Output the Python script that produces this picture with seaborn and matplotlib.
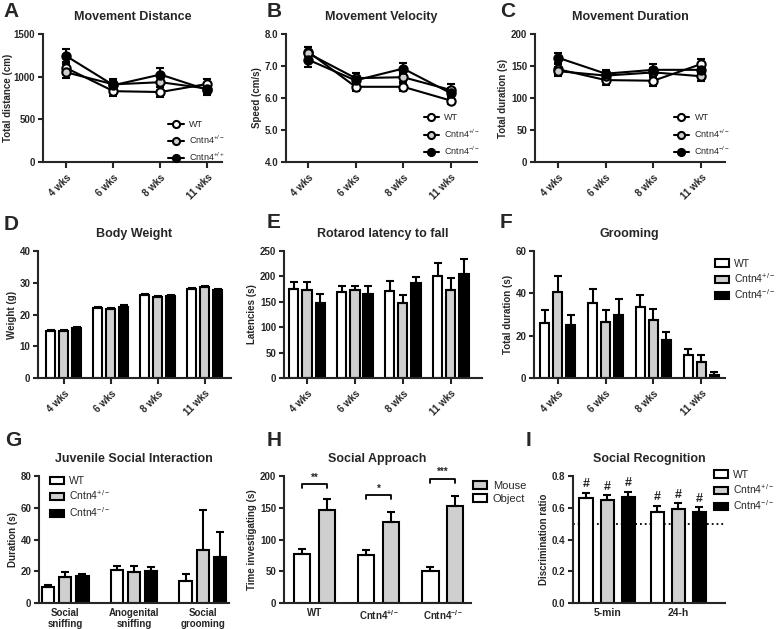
import numpy as np
import pandas as pd
import matplotlib
matplotlib.use("Agg")
import matplotlib.pyplot as plt
import seaborn as sns
from matplotlib.patches import Patch
from matplotlib.ticker import FormatStrFormatter

# valores
ages = ["4 wks", "6 wks", "8 wks", "11 wks"]
geno_labels = ["WT", "Cntn4$^{+/-}$", "Cntn4$^{-/-}$"]
geno_labels_a = ["WT", "Cntn4$^{+/-}$", "Cntn4$^{+/+}$"]

# A - distancia
dist_wt = [1100, 830, 820, 915]
dist_het = [1050, 910, 935, 860]
dist_ko = [1240, 900, 1025, 845]
dist_wt_err = [70, 60, 60, 60]
dist_het_err = [60, 60, 60, 55]
dist_ko_err = [90, 65, 80, 55]

# B - velocidade
vel_wt = [7.45, 6.35, 6.35, 5.92]
vel_het = [7.40, 6.62, 6.65, 6.25]
vel_ko = [7.20, 6.55, 6.92, 6.15]
vel_wt_err = [0.15, 0.12, 0.12, 0.12]
vel_het_err = [0.18, 0.15, 0.15, 0.18]
vel_ko_err = [0.22, 0.12, 0.18, 0.15]

# C - duracao
dur_wt = [145, 128, 127, 153]
dur_het = [142, 135, 140, 134]
dur_ko = [163, 138, 144, 144]
dur_wt_err = [8, 7, 8, 8]
dur_het_err = [7, 6, 7, 8]
dur_ko_err = [8, 6, 9, 7]

# D - peso
peso_wt = [14.7, 21.9, 26.0, 28.1]
peso_het = [14.7, 21.6, 25.5, 28.6]
peso_ko = [15.8, 22.5, 25.7, 27.6]
peso_err = [0.4, 0.4, 0.4, 0.4]

# E - rotarod
rot_wt = [175, 170, 171, 201]
rot_het = [173, 173, 147, 174]
rot_ko = [148, 166, 187, 205]
rot_wt_err = [14, 11, 19, 26]
rot_het_err = [15, 9, 16, 22]
rot_ko_err = [18, 15, 12, 30]

# F - grooming
groom_wt = [26, 35.5, 33.5, 10.7]
groom_het = [40.5, 26.6, 27.2, 7.6]
groom_ko = [25, 29.8, 17.8, 1.6]
groom_wt_err = [6, 6.5, 5.5, 3]
groom_het_err = [7.7, 5.5, 5.4, 3.5]
groom_ko_err = [5, 7.5, 4, 1.3]

# G - interacao social juvenil
juv_cats = ["Social\nsniffing", "Anogenital\nsniffing", "Social\ngrooming"]
juv_wt = [10, 21, 14]
juv_het = [16.5, 19.5, 33.5]
juv_ko = [17, 20, 29]
juv_wt_err = [1.5, 2.5, 4.5]
juv_het_err = [3, 3.5, 25]
juv_ko_err = [1.5, 2.5, 15.5]

# H - social approach
app_cats = ["WT", "Cntn4$^{+/-}$", "Cntn4$^{-/-}$"]
app_object = [77, 75, 51]
app_mouse = [146, 127, 152]
app_object_err = [8, 8, 5]
app_mouse_err = [18, 16, 17]
app_stars = ["**", "*", "***"]
app_bracket = [188, 170, 196]

# I - reconhecimento social
rec_cats = ["5-min", "24-h"]
rec_wt = [0.664, 0.576]
rec_het = [0.649, 0.590]
rec_ko = [0.668, 0.572]
rec_wt_err = [0.031, 0.038]
rec_het_err = [0.030, 0.038]
rec_ko_err = [0.032, 0.031]

WHITE, GRAY, BLACK = "white", "#cfcfcf", "black"

sns.set_style("ticks")
plt.rcParams["font.family"] = ["Liberation Sans", "DejaVu Sans"]
plt.rcParams.update({
    "font.weight": "bold",
    "axes.labelweight": "bold",
    "mathtext.fontset": "custom",
    "mathtext.rm": "Liberation Sans",
    "mathtext.it": "Liberation Sans:italic",
    "mathtext.bf": "Liberation Sans:bold",
    "mathtext.default": "regular",
    "axes.linewidth": 1.5,
    "xtick.major.width": 1.5,
    "ytick.major.width": 1.5,
    "xtick.major.size": 4,
    "ytick.major.size": 3.5,
    "ytick.major.pad": 2,
    "xtick.labelsize": 7,
    "ytick.labelsize": 7,
    "axes.labelsize": 7,
})

W, H = 777, 629
fig = plt.figure(figsize=(W / 100, H / 100), dpi=100)


def make_ax(l, t, r, b):
    ax = fig.add_axes([l / W, 1 - b / H, (r - l) / W, (b - t) / H])
    sns.despine(ax=ax)
    return ax


def style(ax, title, ylabel, ylim, step, xlim):
    ax.set_title(title, fontsize=9, fontweight="bold", pad=10)
    ax.set_ylabel(ylabel, labelpad=2)
    ax.set_xlabel("")
    ax.set_ylim(*ylim)
    ax.set_yticks(np.arange(ylim[0], ylim[1] + step / 2, step))
    ax.set_xlim(*xlim)


def line_panel(ax, series, errs, labels):
    xpos = np.arange(len(ages))
    for vals, err, fc, lab in zip(series, errs, [WHITE, GRAY, BLACK], labels):
        ax.errorbar(xpos, vals, yerr=err, fmt="none", ecolor="black",
                    elinewidth=1.5, capsize=3, capthick=1.5, zorder=2)
        sns.lineplot(x=xpos, y=vals, color="black", lw=1.5, marker="o",
                     markersize=6, markerfacecolor=fc, markeredgecolor="black",
                     markeredgewidth=1.5, label=lab, ax=ax, zorder=3)
    ax.set_xticks(xpos)
    ax.set_xticklabels(ages, rotation=45, ha="right", rotation_mode="anchor")


def bar_panel(ax, cats, levels, values, errors, palette, width, gap, rot=True):
    df = pd.DataFrame({
        "cat": [c for _ in levels for c in cats],
        "grupo": [g for g in levels for _ in cats],
        "valor": [v for vals in values for v in vals],
    })
    sns.barplot(data=df, x="cat", y="valor", hue="grupo", order=cats,
                hue_order=levels, palette=palette, edgecolor="black",
                linewidth=1.5, width=width, gap=gap, saturation=1,
                errorbar=None, legend=False, ax=ax, zorder=2)
    n = len(levels)
    slot = width / n
    tops = []
    for j, (vals, err) in enumerate(zip(values, errors)):
        xs = np.arange(len(cats)) - width / 2 + slot * (j + 0.5)
        ax.errorbar(xs, vals, yerr=[np.zeros(len(vals)), err], fmt="none",
                    ecolor="black", elinewidth=1.5, capsize=3, capthick=1.5,
                    zorder=3)
        tops.append((xs, np.array(vals) + np.array(err)))
    if rot:
        ax.set_xticks(range(len(cats)))
        ax.set_xticklabels(cats, rotation=45, ha="right", rotation_mode="anchor")
    return tops


def bar_legend(ax, labels, colors, anchor, size=8):
    handles = [Patch(facecolor=c, edgecolor="black", lw=1.5, label=l)
               for l, c in zip(labels, colors)]
    leg = ax.legend(handles=handles, loc="upper left", bbox_to_anchor=anchor,
                    frameon=False, fontsize=size, handlelength=1.3,
                    handleheight=0.7, handletextpad=0.5, labelspacing=0.25,
                    borderpad=0, borderaxespad=0)
    for t in leg.get_texts():
        t.set_fontweight("normal")


def line_legend(ax, anchor):
    leg = ax.legend(loc="upper left", bbox_to_anchor=anchor, frameon=False,
                    fontsize=6.5, handlelength=1.7, handletextpad=0.6,
                    labelspacing=0.55, markerscale=0.85, borderpad=0,
                    borderaxespad=0)
    for t in leg.get_texts():
        t.set_fontweight("normal")


# linha 1
ax = make_ax(43, 34, 222, 162)
line_panel(ax, [dist_wt, dist_het, dist_ko],
           [dist_wt_err, dist_het_err, dist_ko_err], geno_labels_a)
style(ax, "Movement Distance", "Total distance (cm)", (0, 1500), 500, (-0.5, 3.31))
ax.yaxis.set_label_coords(-0.168, 0.5)
line_legend(ax, (0.70, 0.33))

ax = make_ax(286, 34, 477, 162)
line_panel(ax, [vel_wt, vel_het, vel_ko],
           [vel_wt_err, vel_het_err, vel_ko_err], geno_labels)
style(ax, "Movement Velocity", "Speed (cm/s)", (4, 8), 1, (-0.46, 3.55))
ax.yaxis.set_major_formatter(FormatStrFormatter("%.1f"))
line_legend(ax, (0.72, 0.38))

ax = make_ax(535, 34, 725, 162)
line_panel(ax, [dur_wt, dur_het, dur_ko],
           [dur_wt_err, dur_het_err, dur_ko_err], geno_labels)
style(ax, "Movement Duration", "Total duration (s)", (0, 200), 50, (-0.48, 3.5))
line_legend(ax, (0.73, 0.38))

# linha 2
palette3 = [WHITE, GRAY, BLACK]
ax = make_ax(38, 251, 231, 378)
bar_panel(ax, ages, geno_labels, [peso_wt, peso_het, peso_ko],
          [peso_err, peso_err, peso_err], palette3, 0.82, 0.3)
style(ax, "Body Weight", "Weight (g)", (0, 40), 10, (-0.55, 3.56))

ax = make_ax(284, 251, 482, 378)
bar_panel(ax, ages, geno_labels, [rot_wt, rot_het, rot_ko],
          [rot_wt_err, rot_het_err, rot_ko_err], palette3, 0.82, 0.3)
style(ax, "Rotarod latency to fall", "Latencies (s)", (0, 250), 50, (-0.48, 3.65))

ax = make_ax(534, 251, 725, 378)
bar_panel(ax, ages, geno_labels, [groom_wt, groom_het, groom_ko],
          [groom_wt_err, groom_het_err, groom_ko_err], palette3, 0.82, 0.3)
style(ax, "Grooming", "Total duration (s)", (0, 60), 20, (-0.5, 3.5))
bar_legend(ax, geno_labels, palette3, (0.95, 0.94), size=7.5)

# linha 3
ax = make_ax(39, 476, 229, 603)
bar_panel(ax, juv_cats, geno_labels, [juv_wt, juv_het, juv_ko],
          [juv_wt_err, juv_het_err, juv_ko_err], palette3, 0.75, 0.28, rot=False)
style(ax, "Juvenile Social Interaction", "Duration (s)", (0, 80), 20, (-0.38, 2.38))
ax.tick_params(axis="x", length=0, labelsize=7)
bar_legend(ax, geno_labels, palette3, (0.06, 1.0), size=7.5)

ax = make_ax(284, 476, 471, 603)
tops = bar_panel(ax, app_cats, ["Object", "Mouse"], [app_object, app_mouse],
                 [app_object_err, app_mouse_err], [WHITE, GRAY], 0.77, 0.35,
                 rot=False)
style(ax, "Social Approach", "Time investigating (s)", (0, 200), 50, (-0.48, 2.44))
ax.tick_params(axis="x", length=0, labelsize=7)
for i, (yb, st) in enumerate(zip(app_bracket, app_stars)):
    x0, x1 = tops[0][0][i], tops[1][0][i]
    ax.plot([x0, x0, x1, x1], [yb - 7, yb, yb, yb - 7], color="black", lw=1.3,
            clip_on=False)
    ax.text((x0 + x1) / 2, yb + 2, st, ha="center", va="bottom", fontsize=7)
bar_legend(ax, ["Mouse", "Object"], [GRAY, WHITE], (1.01, 0.96), size=8)

ax = make_ax(573, 476, 725, 603)
ax.axhline(0.5, color="black", ls=":", lw=1.3, zorder=1)
tops = bar_panel(ax, rec_cats, geno_labels, [rec_wt, rec_het, rec_ko],
                 [rec_wt_err, rec_het_err, rec_ko_err], palette3, 0.89, 0.38,
                 rot=False)
style(ax, "Social Recognition", "Discrimination ratio", (0, 0.8), 0.2, (-0.48, 1.66))
ax.yaxis.set_major_formatter(FormatStrFormatter("%.1f"))
ax.tick_params(axis="x", length=0, labelsize=7.5)
for xs, ys in tops:
    for x, y in zip(xs, ys):
        ax.text(x, y + 0.015, "#", ha="center", va="bottom", fontsize=9)
bar_legend(ax, geno_labels, palette3, (0.93, 1.05), size=7.5)

# letras dos paineis
letras = [("A", 3, 2), ("B", 267, 2), ("C", 500, 2),
          ("D", 4, 215), ("E", 267, 213), ("F", 500, 213),
          ("G", 5, 431), ("H", 267, 431), ("I", 526, 431)]
for letra, x, y in letras:
    fig.text(x / W, 1 - y / H, letra, fontsize=15, fontweight="bold",
             ha="left", va="top")

fig.savefig("out.png", dpi=100)
